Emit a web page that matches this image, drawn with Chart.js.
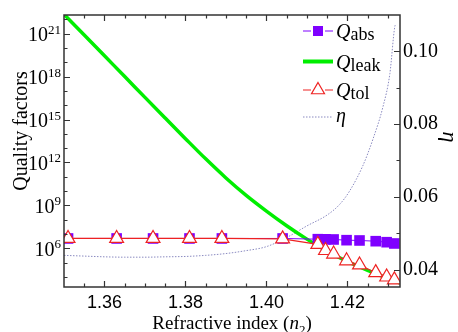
<!DOCTYPE html>
<html>
<head>
<meta charset="utf-8">
<script src="https://cdn.jsdelivr.net/npm/chart.js@4/dist/chart.umd.min.js"></script>
<style>
  body { margin: 0; background: #fff; }
  canvas { display: block; }
</style>
</head>
<body>
<canvas id="qChart" width="458" height="332"></canvas>
<script>
// refractive index n2 where markers sit
const markerN = [1.351, 1.363, 1.372, 1.381, 1.389, 1.404, 1.4127, 1.4146, 1.4166, 1.4198, 1.423, 1.427, 1.4297, 1.4316];
const qAbs = [4.9e6, 4.9e6, 4.9e6, 4.9e6, 4.9e6, 4.9e6, 4.37e6, 4.27e6, 4.17e6, 3.72e6, 3.55e6, 3.16e6, 2.69e6, 2.19e6];
const qTol = [4.9e6, 4.9e6, 4.9e6, 4.9e6, 4.9e6, 4.6e6, 1.9e6, 7.1e5, 4.0e5, 1.35e5, 6.9e4, 2.0e4, 1.0e4, 6.3e3];

const leakN = [1.350, 1.355, 1.360, 1.365, 1.370, 1.375, 1.380, 1.385, 1.390, 1.395, 1.400, 1.405, 1.410, 1.415, 1.420, 1.425, 1.430, 1.433];
const qLeak = [2.24e22, 7.9e20, 2.8e19, 1.0e18, 3.5e16, 1.26e15, 4.6e13, 1.78e12, 8.3e10, 5.0e9, 4.0e8, 3.8e7, 4.4e6, 6.3e5, 1.2e5, 2.9e4, 7.9e3, 3.8e3];

const etaN = [1.350, 1.355, 1.360, 1.365, 1.370, 1.375, 1.380, 1.385, 1.390, 1.395, 1.400, 1.405, 1.410, 1.415, 1.418, 1.4205, 1.4238, 1.4263, 1.4288, 1.4305, 1.4317, 1.432];
const eta = [0.0439, 0.0437, 0.0435, 0.0434, 0.0434, 0.0435, 0.0436, 0.0439, 0.0444, 0.0452, 0.0463, 0.0488, 0.0520, 0.0550, 0.0578, 0.0615, 0.0685, 0.0758, 0.0848, 0.0939, 0.1067, 0.1075];

const xTicks = [1.36, 1.38, 1.40, 1.42];
const qTickExps = [6, 9, 12, 15, 18, 21];
const etaTicks = [0.04, 0.06, 0.08, 0.10];

const PURPLE = '#7f00ff';
const GREEN = '#00ee00';
const RED = '#ee2222';
const ETA_COL = '#8a8ac0';
const AXIS_COL = '#333';
const SERIF = '"Liberation Serif", "Times New Roman", serif';

function pairs(xs, ys) {
    return xs.map((x, i) => ({ x: x, y: ys[i] }));
}

const decorations = {
    id: 'decorations',
    afterDraw(chart) {
        const ctx = chart.ctx;
        const a = chart.chartArea;
        const sx = chart.scales.x, sy = chart.scales.y, sy2 = chart.scales.y2;
        ctx.save();

        // inward tick marks
        ctx.strokeStyle = AXIS_COL;
        ctx.lineWidth = 1.2;
        ctx.beginPath();
        for (let i = 271; i <= 286; i++) {
            const px = Math.round(sx.getPixelForValue(i * 0.005)) + 0.5;
            const len = i % 4 === 0 ? 6 : 3.5;
            ctx.moveTo(px, a.bottom); ctx.lineTo(px, a.bottom - len);
            ctx.moveTo(px, a.top); ctx.lineTo(px, a.top + len);
        }
        for (let p = 4; p <= 22; p++) {
            const py = Math.round(sy.getPixelForValue(Math.pow(10, p))) + 0.5;
            const len = p % 3 === 0 ? 6 : 3.5;
            ctx.moveTo(a.left, py); ctx.lineTo(a.left + len, py);
        }
        for (let k = 4; k <= 10; k++) {
            const py = Math.round(sy2.getPixelForValue(k / 100)) + 0.5;
            const len = k % 2 === 0 ? 6 : 3.5;
            ctx.moveTo(a.right, py); ctx.lineTo(a.right - len, py);
        }
        ctx.stroke();

        // frame
        ctx.lineWidth = 1.5;
        ctx.strokeRect(a.left, a.top, a.right - a.left, a.bottom - a.top);

        // left labels 10^n
        ctx.fillStyle = '#000';
        ctx.textBaseline = 'alphabetic';
        ctx.textAlign = 'left';
        qTickExps.forEach(p => {
            const py = sy.getPixelForValue(Math.pow(10, p));
            ctx.font = '13px ' + SERIF;
            const ws = ctx.measureText(String(p)).width;
            ctx.font = '20px ' + SERIF;
            const wb = ctx.measureText('10').width;
            const right = a.left - 3;
            ctx.fillText('10', right - ws - wb, py + 7.5);
            ctx.font = '13px ' + SERIF;
            ctx.fillText(String(p), right - ws, py);
        });

        // axis titles
        ctx.font = '20px ' + SERIF;
        ctx.save();
        ctx.translate(27, 131);
        ctx.rotate(-Math.PI / 2);
        ctx.textAlign = 'center';
        ctx.fillText('Quality factors', 0, 0);
        ctx.restore();

        ctx.save();
        ctx.translate(443, 137);
        ctx.rotate(Math.PI / 2);
        ctx.textAlign = 'center';
        ctx.font = 'italic 22px ' + SERIF;
        ctx.fillText('\u03b7', 0, 0);
        ctx.restore();

        // x title with italic n and subscript 2
        const parts = [
            ['Refractive index (', '19px ' + SERIF, 0],
            ['n', 'italic 19px ' + SERIF, 0],
            ['2', '13px ' + SERIF, 5],
            [')', '19px ' + SERIF, 0]
        ];
        let total = 0;
        parts.forEach(pt => { ctx.font = pt[1]; total += ctx.measureText(pt[0]).width; });
        let tx = (a.left + a.right) / 2 - total / 2;
        parts.forEach(pt => {
            ctx.font = pt[1];
            ctx.fillText(pt[0], tx, 329 + pt[2]);
            tx += ctx.measureText(pt[0]).width;
        });

        // legend
        const lx0 = 303, lx1 = 333, mx = 318, tx0 = 336;
        const rows = [31, 61.5, 90, 117];
        // Q_abs
        ctx.strokeStyle = PURPLE; ctx.lineWidth = 1;
        ctx.beginPath();
        ctx.moveTo(lx0, rows[0]); ctx.lineTo(mx - 7, rows[0]);
        ctx.moveTo(mx + 7, rows[0]); ctx.lineTo(lx1, rows[0]);
        ctx.stroke();
        ctx.fillStyle = PURPLE;
        ctx.fillRect(mx - 5, rows[0] - 5, 10, 10);
        // Q_leak
        ctx.strokeStyle = GREEN; ctx.lineWidth = 4;
        ctx.beginPath(); ctx.moveTo(lx0, rows[1]); ctx.lineTo(lx1, rows[1]); ctx.stroke();
        // Q_tol
        ctx.strokeStyle = RED; ctx.lineWidth = 1;
        ctx.beginPath();
        ctx.moveTo(lx0, rows[2]); ctx.lineTo(mx - 7, rows[2]);
        ctx.moveTo(mx + 7, rows[2]); ctx.lineTo(lx1, rows[2]);
        ctx.stroke();
        ctx.lineWidth = 1.2;
        ctx.fillStyle = '#fff';
        ctx.beginPath();
        ctx.moveTo(mx, rows[2] - 7.5);
        ctx.lineTo(mx + 6.5, rows[2] + 3.75);
        ctx.lineTo(mx - 6.5, rows[2] + 3.75);
        ctx.closePath();
        ctx.fill(); ctx.stroke();
        // eta
        ctx.strokeStyle = ETA_COL; ctx.lineWidth = 1;
        ctx.setLineDash([1.5, 1.5]);
        ctx.beginPath(); ctx.moveTo(lx0, rows[3]); ctx.lineTo(lx1, rows[3]); ctx.stroke();
        ctx.setLineDash([]);

        ctx.fillStyle = '#000';
        ['abs', 'leak', 'tol'].forEach((sub, i) => {
            ctx.font = 'italic 20px ' + SERIF;
            ctx.fillText('Q', tx0, rows[i] + 7);
            const wq = ctx.measureText('Q').width;
            ctx.font = '18px ' + SERIF;
            ctx.fillText(sub, tx0 + wq, rows[i] + 9);
        });
        ctx.font = 'italic 20px ' + SERIF;
        ctx.fillText('\u03b7', tx0, rows[3] + 5);

        ctx.restore();
    }
};

const ctx = document.getElementById('qChart').getContext('2d');
const chart = new Chart(ctx, {
    type: 'line',
    data: {
        datasets: [
            {
                label: 'Q_tol',
                data: pairs(markerN, qTol),
                yAxisID: 'y',
                borderColor: RED,
                borderWidth: 1.2,
                pointStyle: 'triangle',
                pointRadius: 8,
                pointBackgroundColor: '#fff',
                pointBorderColor: RED,
                pointBorderWidth: 1.2,
                clip: 0,
                order: 0
            },
            {
                label: 'Q_abs',
                data: pairs(markerN, qAbs),
                yAxisID: 'y',
                borderColor: PURPLE,
                borderWidth: 1,
                pointStyle: 'rect',
                pointRadius: 7.5,
                pointBackgroundColor: PURPLE,
                pointBorderWidth: 0,
                clip: 0,
                order: 1
            },
            {
                label: 'Q_leak',
                data: pairs(leakN, qLeak),
                yAxisID: 'y',
                borderColor: GREEN,
                borderWidth: 3.5,
                pointRadius: 0,
                cubicInterpolationMode: 'monotone',
                clip: 0,
                order: 2
            },
            {
                label: 'eta',
                data: pairs(etaN, eta),
                yAxisID: 'y2',
                borderColor: ETA_COL,
                borderWidth: 1,
                borderDash: [1.5, 1.5],
                pointRadius: 0,
                cubicInterpolationMode: 'monotone',
                clip: 0,
                order: 3
            }
        ]
    },
    options: {
        responsive: false,
        animation: false,
        events: [],
        layout: { padding: { top: 12, left: 0, right: 0, bottom: 0 } },
        plugins: { legend: { display: false }, tooltip: { enabled: false } },
        scales: {
            x: {
                type: 'linear',
                min: 1.35,
                max: 1.433,
                afterBuildTicks: s => { s.ticks = xTicks.map(v => ({ value: v })); },
                afterFit: s => { s.height = 45; },
                grid: { display: false, drawTicks: false },
                border: { display: false },
                ticks: {
                    padding: 5,
                    color: '#000',
                    maxRotation: 0,
                    font: { family: '"Liberation Sans", Arial, sans-serif', size: 18 },
                    callback: v => v.toFixed(2)
                }
            },
            y: {
                type: 'logarithmic',
                position: 'left',
                min: Math.pow(10, 3.3),
                max: Math.pow(10, 22.3),
                afterFit: s => { s.width = 64; },
                grid: { display: false, drawTicks: false },
                border: { display: false },
                ticks: { display: false }
            },
            y2: {
                type: 'linear',
                position: 'right',
                min: 0.0352,
                max: 0.11,
                afterBuildTicks: s => { s.ticks = etaTicks.map(v => ({ value: v })); },
                afterFit: s => { s.width = 58; },
                grid: { display: false, drawTicks: false },
                border: { display: false },
                ticks: {
                    padding: 3,
                    color: '#000',
                    font: { family: SERIF, size: 20 },
                    callback: v => v.toFixed(2)
                }
            }
        }
    },
    plugins: [decorations]
});
</script>
</body>
</html>
